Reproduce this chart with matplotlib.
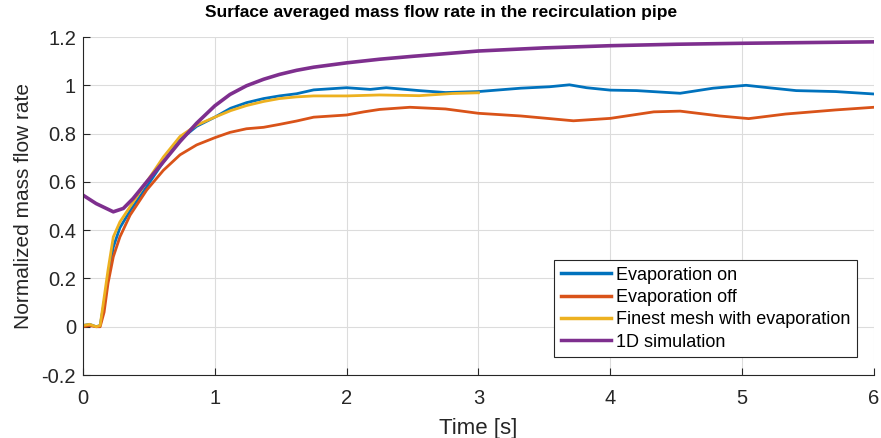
import numpy as np
import matplotlib
matplotlib.use("Agg")
import matplotlib.pyplot as plt

plt.rcParams['font.family'] = ['Liberation Sans', 'DejaVu Sans']

# Evaporation on
t_on = [0, 0.05, 0.1, 0.13, 0.154, 0.19, 0.23, 0.28, 0.357, 0.483, 0.61, 0.736, 0.862, 1.0,
        1.12, 1.24, 1.37, 1.49, 1.62, 1.75, 2.0, 2.18, 2.3, 2.55, 2.75, 3.0, 3.32, 3.54, 3.69,
        3.82, 4.0, 4.2, 4.53, 4.78, 5.03, 5.2, 5.41, 5.71, 6.0]
y_on = [0.005, 0.01, 0.0, 0.005, 0.08, 0.2, 0.33, 0.41, 0.48, 0.58, 0.683, 0.774, 0.83, 0.868,
        0.905, 0.928, 0.945, 0.956, 0.965, 0.981, 0.99, 0.983, 0.99, 0.978, 0.97, 0.974, 0.988,
        0.994, 1.002, 0.99, 0.98, 0.978, 0.967, 0.988, 1.0, 0.99, 0.978, 0.974, 0.964]

# Evaporation off
t_off = [0, 0.05, 0.1, 0.13, 0.16, 0.19, 0.23, 0.28, 0.357, 0.483, 0.61, 0.736, 0.862, 1.0,
         1.115, 1.24, 1.37, 1.49, 1.62, 1.75, 2.0, 2.13, 2.25, 2.48, 2.75, 3.0, 3.32, 3.72,
         4.0, 4.33, 4.53, 4.83, 5.05, 5.33, 5.71, 6.0]
y_off = [0.0, 0.005, 0.0, 0.0, 0.06, 0.18, 0.29, 0.372, 0.462, 0.566, 0.648, 0.712, 0.753,
         0.783, 0.805, 0.82, 0.826, 0.838, 0.852, 0.868, 0.877, 0.89, 0.9, 0.909, 0.902, 0.884,
         0.873, 0.853, 0.863, 0.89, 0.893, 0.873, 0.862, 0.881, 0.898, 0.909]

# Finest mesh with evaporation
t_fine = [0, 0.05, 0.1, 0.13, 0.154, 0.19, 0.23, 0.28, 0.357, 0.483, 0.61, 0.736, 0.862, 1.0,
          1.12, 1.24, 1.37, 1.49, 1.62, 1.75, 2.0, 2.25, 2.55, 2.8, 3.0]
y_fine = [0.005, 0.01, 0.0, 0.005, 0.097, 0.235, 0.372, 0.434, 0.497, 0.6, 0.703, 0.788, 0.835,
          0.868, 0.895, 0.916, 0.933, 0.945, 0.952, 0.956, 0.956, 0.96, 0.957, 0.966, 0.969]

# 1D simulation
t_1d = [0, 0.1, 0.23, 0.306, 0.38, 0.483, 0.61, 0.736, 0.862, 1.0, 1.115, 1.24, 1.37, 1.49,
        1.62, 1.75, 2.0, 2.25, 2.5, 3.0, 3.5, 4.0, 4.5, 5.0, 5.5, 6.0]
y_1d = [0.545, 0.51, 0.476, 0.49, 0.531, 0.6, 0.683, 0.767, 0.843, 0.915, 0.962, 0.998, 1.025,
        1.045, 1.062, 1.075, 1.093, 1.108, 1.12, 1.142, 1.155, 1.164, 1.17, 1.174, 1.177, 1.18]

txt = '#262626'
fig = plt.figure(figsize=(8.81, 4.38), dpi=100)
ax = fig.add_axes([0.0942, 0.1438, 0.8978, 0.7717])

ax.plot(t_on, y_on, color='#0072BD', lw=2, label='Evaporation on')
ax.plot(t_off, y_off, color='#D95319', lw=2, label='Evaporation off')
ax.plot(t_fine, y_fine, color='#EDB120', lw=2, label='Finest mesh with evaporation')
ax.plot(t_1d, y_1d, color='#7E2F8E', lw=2.6, label='1D simulation')

ax.set_xlim(0, 6)
ax.set_ylim(-0.2, 1.2)
ax.set_xticks(range(7))
ax.set_yticks(np.arange(-0.2, 1.21, 0.2))
ax.set_yticklabels(['-0.2', '0', '0.2', '0.4', '0.6', '0.8', '1', '1.2'])
ax.grid(True, color='#dcdcdc', lw=0.8)
ax.set_axisbelow(True)
for s in ['top', 'right']:
    ax.spines[s].set_visible(False)
for s in ['left', 'bottom']:
    ax.spines[s].set_color(txt)
ax.tick_params(direction='in', colors=txt, labelsize=14.5, length=5)
ax.tick_params(axis='x', pad=10)
ax.tick_params(axis='y', pad=5)

ax.set_xlabel('Time [s]', fontsize=16, color=txt, labelpad=7)
ax.set_ylabel('Normalized mass flow rate', fontsize=15, color=txt, labelpad=6)
fig.text(441 / 881, 1 - 12 / 438, 'Surface averaged mass flow rate in the recirculation pipe',
         ha='center', va='center', fontsize=12.5, fontweight='bold', color='black')

leg = ax.legend(loc='lower right', bbox_to_anchor=(0.978, 0.053), fontsize=13, fancybox=False,
                framealpha=1, edgecolor='#262626', handlelength=2.8, handletextpad=0.25,
                borderpad=0.35, labelspacing=0.3, borderaxespad=0)
leg.get_frame().set_linewidth(0.8)
for l in leg.get_lines():
    l.set_linewidth(2.5)

fig.savefig('out.png', dpi=100)
